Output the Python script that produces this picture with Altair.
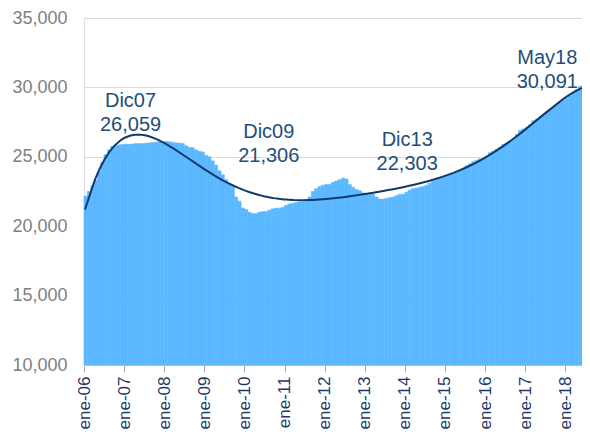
import altair as alt
import pandas as pd

# Monthly values, ene-06 .. may-18 (149 months)
v2006 = [22170, 22500, 22900, 23300, 23900, 24600, 25150, 25500, 25750, 25800, 25850, 25880]
v2007 = [25900, 25900, 25920, 25950, 25950, 25950, 25980, 26000, 26020, 26050, 26080, 26059]
v2008 = [26100, 26080, 26050, 26000, 25980, 25950, 25800, 25680, 25650, 25500, 25400, 25350]
v2009 = [25100, 25000, 24700, 24400, 24000, 23700, 23350, 23100, 22850, 22100, 21800, 21306]
v2010 = [21200, 21000, 20900, 20900, 21000, 21050, 21050, 21150, 21250, 21300, 21300, 21350]
v2011 = [21500, 21600, 21650, 21700, 21750, 21750, 21800, 22100, 22500, 22700, 22850, 22950]
v2012 = [23000, 23000, 23150, 23250, 23350, 23460, 23400, 23000, 22800, 22650, 22550, 22400]
v2013 = [22350, 22300, 22300, 22100, 21950, 21950, 22000, 22050, 22100, 22200, 22300, 22303]
v2014 = [22450, 22600, 22700, 22750, 22800, 22850, 22950, 23100, 23250, 23350, 23450, 23550]
v2015 = [23650, 23750, 23850, 23950, 24050, 24150, 24350, 24500, 24650, 24750, 24850, 24900]
v2016 = [25050, 25300, 25400, 25550, 25700, 25900, 26000, 26100, 26300, 26600, 26900, 27000]
v2017 = [27100, 27300, 27600, 27700, 27800, 28000, 28250, 28400, 28550, 28700, 28900, 29050]
v2018 = [29200, 29400, 29600, 29850, 30091]

values = (v2006 + v2007 + v2008 + v2009 + v2010 + v2011 + v2012 + v2013 +
          v2014 + v2015 + v2016 + v2017 + v2018)
months = list(range(len(values)))

tick_months = list(range(0, 145, 12))
y_ticks = [10000, 15000, 20000, 25000, 30000, 35000]

ann_names = ["Dic07", "Dic09", "Dic13", "May18"]
ann_months = [23, 47, 95, 148]
ann_values = [26059, 21306, 22303, 30091]
ann_dx = [-32, 26, 4, -33]
ann_dy = [-35, -70, -48, -22]

df = pd.DataFrame({"m": months, "value": values})
df["m_end"] = df["m"] + 1
df["m_mid"] = df["m"] + 0.5
df["base"] = 10000

FONT = "Liberation Sans"
BAR = "#5BB8FF"
LINE = "#12396B"
TXT = "#1F4E79"

xscale = alt.Scale(domain=[0, len(values)], nice=False, zero=False)
yscale = alt.Scale(domain=[10000, 35000], nice=False, zero=False)

xaxis = alt.Axis(
    values=tick_months,
    labelExpr="'ene-' + (datum.value/12 + 6 < 10 ? '0' : '') + (datum.value/12 + 6)",
    labelAngle=-90, labelFontSize=17, labelColor="#1F3864", labelFont=FONT,
    labelPadding=4, tickSize=7, tickColor="#A6A6A6", domainColor="#BFBFBF",
    domainDash=[2, 1], grid=False, title=None, labelOverlap=False,
)
yaxis = alt.Axis(
    values=y_ticks, labelExpr="format(datum.value, ',')", labelFontSize=18,
    labelColor="#7F7F7F", labelFont=FONT, labelPadding=17, ticks=False,
    domain=False, gridColor="#D9D9D9", gridWidth=1, title=None,
)

bars = alt.Chart(df).mark_bar(color=BAR, stroke=BAR, strokeWidth=0.6).encode(
    x=alt.X("m:Q", scale=xscale, axis=xaxis),
    x2="m_end:Q",
    y=alt.Y("value:Q", scale=yscale, axis=yaxis),
    y2="base:Q",
)

trend = alt.Chart(df).transform_regression(
    "m_mid", "value", method="poly", order=6, extent=[0.3, 149]
).mark_line(color=LINE, strokeWidth=2).encode(
    x=alt.X("m_mid:Q", scale=xscale, axis=xaxis),
    y=alt.Y("value:Q", scale=yscale, axis=yaxis),
)

layers = [bars, trend]
for name, m, v, dx, dy in zip(ann_names, ann_months, ann_values, ann_dx, ann_dy):
    adf = pd.DataFrame({"m": [m + 0.5], "value": [v],
                        "label": [name + "\n" + f"{v:,}"]})
    layers.append(
        alt.Chart(adf).mark_text(
            font=FONT, fontSize=20, color=TXT, align="center",
            baseline="alphabetic", lineBreak="\n", lineHeight=24,
            dx=dx, dy=dy,
        ).encode(
            x=alt.X("m:Q", scale=xscale, axis=xaxis),
            y=alt.Y("value:Q", scale=yscale, axis=yaxis),
            text="label:N",
        )
    )

chart = alt.layer(*layers).properties(
    width=498, height=347,
    padding={"left": 76, "top": 10, "right": 0, "bottom": 69},
    autosize=alt.AutoSizeParams(type="none"),
).configure_view(stroke=None).configure(background="white")

chart.save("out.html", embed_options={"renderer": "svg", "actions": False})
